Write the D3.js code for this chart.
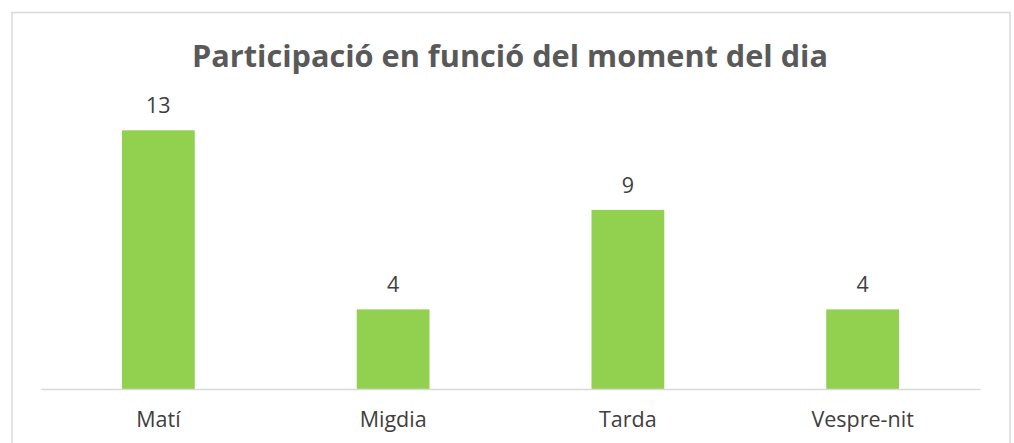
<!DOCTYPE html>
<html>
<head>
<meta charset="utf-8">
<script src="https://cdn.jsdelivr.net/npm/d3@7"></script>
<style>
  html, body { margin: 0; padding: 0; background: #fff; }
  svg { display: block; }
</style>
</head>
<body>
<svg id="chart" width="1014" height="443"></svg>
<script>
const titleText = "Participació en funció del moment del dia";
const categories = ["Matí", "Migdia", "Tarda", "Vespre-nit"];
const values = [13, 4, 9, 4];

const svg = d3.select("#chart");
const W = 1014, H = 443;

// chart border
svg.append("rect")
  .attr("x", 12).attr("y", 12.5)
  .attr("width", 998).attr("height", H + 20)
  .attr("fill", "#fff")
  .attr("stroke", "#d9d9d9")
  .attr("stroke-width", 1.5);

const plot = { left: 41, right: 980, top: 110.4, bottom: 389 };

const x = d3.scaleBand()
  .domain(categories)
  .range([plot.left, plot.right])
  .paddingInner(0.69)
  .paddingOuter(0.345);

const y = d3.scaleLinear()
  .domain([0, 14])
  .range([plot.bottom, plot.top]);

// title
const title = svg.append("text")
  .attr("x", 510)
  .attr("y", 67)
  .attr("text-anchor", "middle")
  .attr("font-family", "'Open Sans', sans-serif")
  .attr("font-weight", "bold")
  .attr("font-size", 29.5)
  .attr("fill", "#595959")
  .text(titleText);
const tw = title.node().getComputedTextLength();
if (Math.abs(tw - 636) > 8) {
  title.attr("textLength", 636).attr("lengthAdjust", "spacingAndGlyphs");
}

// bars
svg.append("g").selectAll("rect")
  .data(values)
  .join("rect")
  .attr("x", (d, i) => x(categories[i]))
  .attr("y", d => y(d))
  .attr("width", x.bandwidth())
  .attr("height", d => y(0) - y(d))
  .attr("fill", "#92d050");

// x axis
const xAxis = d3.axisBottom(x).tickSize(0).tickPadding(0);
const gx = svg.append("g")
  .attr("transform", `translate(0,${plot.bottom})`)
  .call(xAxis);
gx.select(".domain")
  .attr("stroke", "#d9d9d9")
  .attr("stroke-width", 1.5);
gx.selectAll(".tick text")
  .attr("dy", 0)
  .attr("y", 427 - plot.bottom)
  .attr("font-family", "'Open Sans', sans-serif")
  .attr("font-size", 21.5)
  .attr("fill", "#404040");

// data labels
svg.append("g").selectAll("text")
  .data(values)
  .join("text")
  .attr("x", (d, i) => x(categories[i]) + x.bandwidth() / 2)
  .attr("y", d => y(d) - 17)
  .attr("text-anchor", "middle")
  .attr("font-family", "'Open Sans', sans-serif")
  .attr("font-size", 21.5)
  .attr("fill", "#404040")
  .text(d => d);
</script>
</body>
</html>
